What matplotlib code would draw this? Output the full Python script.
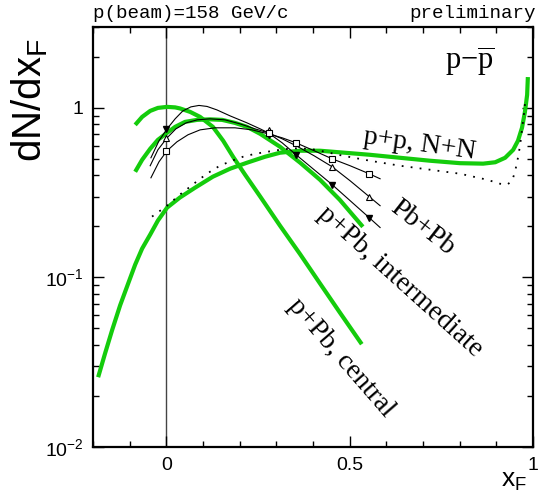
import matplotlib
matplotlib.use("Agg")
import matplotlib.pyplot as plt
from matplotlib.ticker import FixedLocator, FuncFormatter, NullFormatter
import numpy as np

plt.rcParams['font.family'] = ['Liberation Sans', 'DejaVu Sans']
plt.rcParams['mathtext.default'] = 'regular'

# ---- data ----
# green model curves
pp_x = [-0.186, -0.167, -0.148, -0.126, -0.104, -0.085, -0.066, -0.044, -0.023, 0.002,
        0.037, 0.078, 0.127, 0.174, 0.220, 0.269, 0.310, 0.365, 0.419, 0.473, 0.555,
        0.637, 0.719, 0.801, 0.864, 0.897, 0.924, 0.946, 0.959, 0.970, 0.978, 0.984, 0.986]
pp_y = [0.0258, 0.0357, 0.0488, 0.0685, 0.0922, 0.119, 0.148, 0.179, 0.2165, 0.258,
        0.296, 0.338, 0.393, 0.438, 0.475, 0.515, 0.544, 0.559, 0.559, 0.547, 0.529,
        0.508, 0.488, 0.472, 0.469, 0.478, 0.508, 0.566, 0.640, 0.763, 0.947, 1.193, 1.52]

central_x = [-0.085, -0.066, -0.044, -0.023, 0.002, 0.024, 0.037, 0.065, 0.092, 0.127,
             0.155, 0.182, 0.215, 0.256, 0.310, 0.365, 0.419, 0.473, 0.533]
central_y = [0.794, 0.885, 0.960, 1.0, 1.014, 1.007, 0.993, 0.947, 0.885, 0.773,
             0.640, 0.515, 0.403, 0.300, 0.202, 0.137, 0.0922, 0.0622, 0.0404]

inter_x = [-0.085, -0.066, -0.044, -0.023, 0.002, 0.024, 0.051, 0.084, 0.119, 0.152,
           0.187, 0.220, 0.256, 0.310, 0.365, 0.419, 0.473, 0.536]
inter_y = [0.420, 0.494, 0.574, 0.648, 0.713, 0.773, 0.827, 0.850, 0.856, 0.850,
           0.816, 0.773, 0.703, 0.590, 0.475, 0.377, 0.287, 0.199]

# dotted curve
dot_x = [-0.039, 0.002, 0.037, 0.065, 0.092, 0.119, 0.146, 0.179, 0.209, 0.242, 0.275,
         0.310, 0.346, 0.392, 0.433, 0.482, 0.555, 0.637, 0.719, 0.801, 0.875, 0.910,
         0.930, 0.943, 0.951, 0.959, 0.965, 0.970, 0.976, 0.978]
dot_y = [0.2285, 0.265, 0.308, 0.343, 0.382, 0.420, 0.456, 0.488, 0.515, 0.536, 0.551,
         0.566, 0.578, 0.574, 0.551, 0.522, 0.488, 0.456, 0.432, 0.409, 0.377, 0.357,
         0.353, 0.372, 0.420, 0.508, 0.606, 0.742, 0.947, 1.056]

# thin black fit curves (Pb+Pb)
fit1_x = [-0.042, -0.020, 0.002, 0.024, 0.045, 0.067, 0.089, 0.111, 0.138, 0.174, 0.220,
          0.256, 0.278, 0.316, 0.354, 0.403, 0.452, 0.501, 0.553, 0.583]
fit1_y = [0.508, 0.640, 0.752, 0.862, 0.960, 1.014, 1.034, 1.020, 0.973, 0.897, 0.816,
          0.752, 0.713, 0.622, 0.529, 0.432, 0.353, 0.284, 0.2255, 0.197]
fit2_x = [-0.044, -0.023, 0.002, 0.026, 0.054, 0.084, 0.119, 0.160, 0.201, 0.242, 0.278,
          0.316, 0.354, 0.403, 0.452, 0.501, 0.553, 0.583]
fit2_y = [0.456, 0.566, 0.666, 0.752, 0.816, 0.850, 0.862, 0.850, 0.805, 0.752, 0.713,
          0.657, 0.598, 0.522, 0.450, 0.372, 0.300, 0.265]
fit3_x = [-0.042, -0.020, 0.002, 0.029, 0.059, 0.092, 0.133, 0.187, 0.234, 0.278, 0.316,
          0.354, 0.403, 0.452, 0.501, 0.553, 0.583]
fit3_y = [0.387, 0.481, 0.559, 0.631, 0.694, 0.742, 0.763, 0.763, 0.742, 0.703, 0.666,
          0.622, 0.559, 0.501, 0.456, 0.409, 0.382]

# data points
tri_dn_x = [0.0, 0.28, 0.354, 0.452, 0.553]
tri_dn_y = [0.752, 0.69, 0.529, 0.353, 0.2255]
tri_up_x = [0.0, 0.28, 0.452, 0.553]
tri_up_y = [0.666, 0.74, 0.45, 0.30]
sq_x = [0.0, 0.28, 0.354, 0.452, 0.553]
sq_y = [0.559, 0.715, 0.622, 0.501, 0.409]

x_ticks = [0, 0.5, 1]
x_ticklabels = ['0', '0.5', '1']

GREEN = '#14cc0c'

fig = plt.figure(figsize=(5.39, 4.95), dpi=100)
ax = fig.add_axes([93/539, 48/495, 440/539, 420/495])

ax.axvline(0, color='#444444', lw=1.0, zorder=1)

for cx, cy in [(pp_x, pp_y), (central_x, central_y), (inter_x, inter_y)]:
    ax.plot(cx, cy, color=GREEN, lw=3, zorder=3, solid_capstyle='butt',
            solid_joinstyle='round')
ax.plot(dot_x, dot_y, color='black', lw=1.3, ls=(0, (1, 4)), zorder=4)

for fx, fy in [(fit1_x, fit1_y), (fit2_x, fit2_y), (fit3_x, fit3_y)]:
    ax.plot(fx, fy, color='black', lw=0.8, zorder=5)

ax.plot(tri_dn_x, tri_dn_y, ls='none', marker='v', ms=5, mfc='black', mec='black', zorder=6)
ax.plot(tri_up_x, tri_up_y, ls='none', marker='^', ms=5, mfc='white', mec='black', mew=0.8, zorder=6)
ax.plot(sq_x, sq_y, ls='none', marker='s', ms=4.5, mfc='white', mec='black', mew=0.8, zorder=6)

ax.set_yscale('log')
ax.set_xlim(-0.2, 1.0)
ax.set_ylim(0.01, 3.0)

ax.xaxis.set_major_locator(FixedLocator(x_ticks))
ax.set_xticklabels(x_ticklabels)
ax.xaxis.set_minor_locator(FixedLocator(np.round(np.arange(-0.2, 1.0001, 0.1), 2)))
ax.yaxis.set_major_locator(FixedLocator([0.01, 0.1, 1]))
ax.yaxis.set_minor_locator(FixedLocator([m * 10.0**e for e in (-2, -1, 0) for m in range(2, 10)]))
ax.yaxis.set_minor_formatter(NullFormatter())

def yfmt(v, pos):
    if abs(v - 1) < 1e-9:
        return '1'
    e = int(round(np.log10(v)))
    return r'$10^{%d}$' % e
ax.yaxis.set_major_formatter(FuncFormatter(yfmt))

ax.tick_params(which='both', direction='in', top=True, right=True, width=1.0)
ax.tick_params(which='major', length=8, labelsize=14, pad=7)
ax.tick_params(which='minor', length=4)
for s in ax.spines.values():
    s.set_linewidth(1.6)

serif = 'Liberation Serif'
ax.text(0.828, 1.86, r'p$-\overline{p}$', family=serif, fontsize=22,
        ha='center', va='center')
ax.text(0.69, 0.605, 'p+p, N+N', family=serif, fontsize=20, rotation=-8,
        ha='center', va='center', rotation_mode='anchor')
ax.text(0.698, 0.197, 'Pb+Pb', family=serif, fontsize=20, rotation=-38,
        ha='center', va='center', rotation_mode='anchor')
ax.text(0.637, 0.0947, 'p+Pb, intermediate', family=serif, fontsize=20, rotation=-42,
        ha='center', va='center', rotation_mode='anchor')
ax.text(0.476, 0.0338, 'p+Pb, central', family=serif, fontsize=20, rotation=-49,
        ha='center', va='center', rotation_mode='anchor')

mono = 'Liberation Mono'
fig.text(93/539, 1 - 13/495, 'p(beam)=158 GeV/c', family=mono, fontsize=13.8,
         ha='left', va='center')
fig.text(536/539, 1 - 13/495, 'preliminary', family=mono, fontsize=13.8,
         ha='right', va='center')

fig.text(30/539, 1 - 38/495, r'dN/dx$_{F}$', fontsize=29, rotation=90,
         ha='center', va='top')
fig.text(514/539, 1 - 481/495, r'x$_{F}$', fontsize=19, ha='center', va='center')

fig.savefig('out.png', dpi=100)
